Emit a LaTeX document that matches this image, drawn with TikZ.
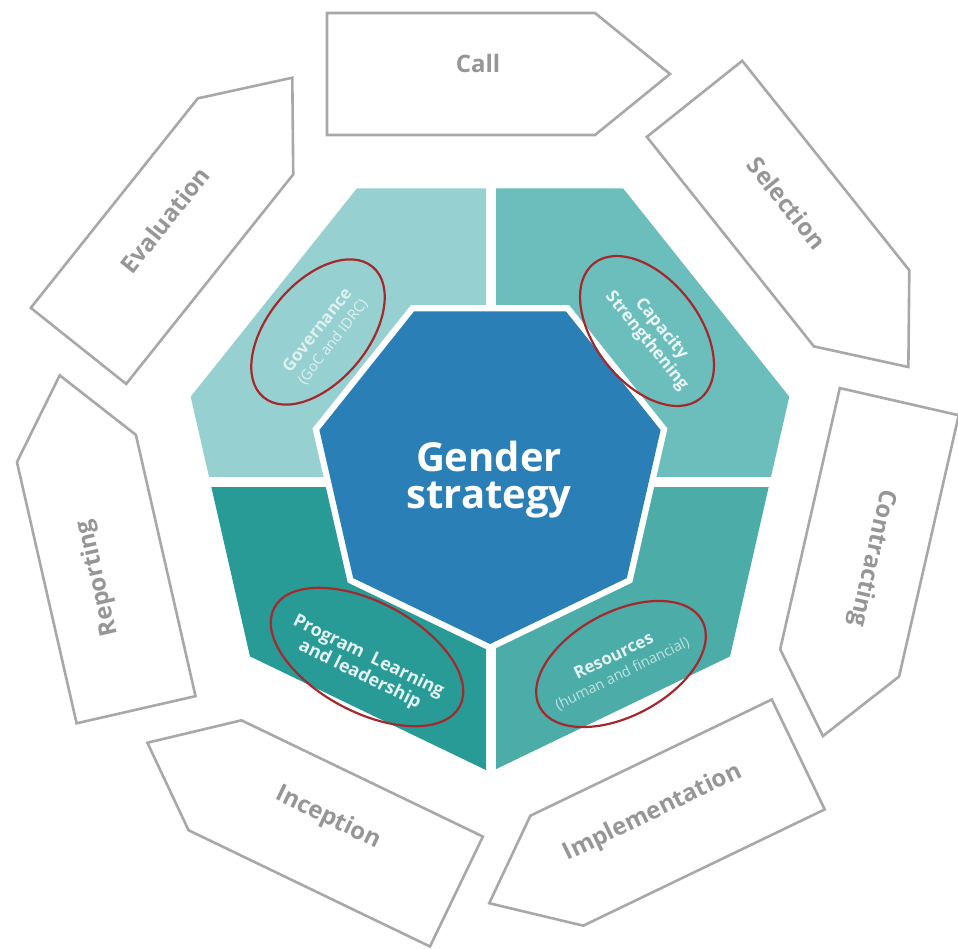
\documentclass[tikz,border=0pt]{standalone}
\usepackage{fontspec}
\setmainfont{Open Sans}
\usetikzlibrary{calc,shapes.geometric}

\definecolor{qtl}{RGB}{150,208,208}
\definecolor{qtr}{RGB}{108,190,188}
\definecolor{qbl}{RGB}{40,155,150}
\definecolor{qbr}{RGB}{75,172,168}
\definecolor{corefill}{RGB}{42,127,183}
\definecolor{ringline}{RGB}{168,168,168}
\definecolor{ringtext}{RGB}{150,150,150}
\definecolor{markline}{RGB}{165,40,45}

\newcommand\sublinefont{\mdseries\fontsize{14.5}{17}\selectfont}

\tikzset{
  hept/.style={insert path={(270:#1) -- (321.43:#1) -- (12.86:#1) -- (64.29:#1)
      -- (115.71:#1) -- (167.14:#1) -- (218.57:#1) -- cycle}},
  stagebox/.style={draw=ringline, line width=2.6pt, fill=white, line join=miter},
  stagelabel/.style={text=ringtext, font=\bfseries\fontsize{24}{26}\selectfont, inner sep=0pt},
  highlight/.style={ellipse, draw=markline, line width=2.2pt, inner sep=0pt},
  pillar/.style={font=\bfseries\fontsize{17}{19}\selectfont, align=center, inner sep=0pt},
}

\begin{document}
\begin{tikzpicture}[x=1pt,y=1pt]
\useasboundingbox (0,0) rectangle (958,-948);
\fill[white] (0,0) rectangle (958,-948);

% ring of process stages, one arrow per side of the heptagon
\foreach \ang/\dx in {0/0, -51.43/0, -102.86/-5, -154.29/0, -205.71/0, -257.14/0, -308.57/0} {
  \begin{scope}[shift={(485+\dx,-468)}, rotate=\ang]
    \draw[stagebox] (-158,455) -- (110,455) -- (185,394) -- (110,333) -- (-158,333) -- cycle;
  \end{scope}
}

\node[stagelabel, rotate=0]       (call)     at (478,-63)  {Call};
\node[stagelabel, rotate=-51.43]  (select)   at (787,-203) {Selection};
\node[stagelabel, rotate=-102.86] (contract) at (872,-558) {Contracting};
\node[stagelabel, rotate=25.71]   (implem)   at (653,-813) {Implementation};
\node[stagelabel, rotate=-25.71]  (incept)   at (328,-818) {Inception};
\node[stagelabel, rotate=102.86]  (report)   at (98,-578)  {Reporting};
\node[stagelabel, rotate=51.43]   (evaluate) at (165,-220) {Evaluation};

% four coloured pillars cut from the outer heptagon
\begin{scope}[shift={(490,-465)}]
  \begin{scope}\clip (-340,340) rectangle (-4,-11); \fill[qtl, hept=307]; \end{scope}
  \begin{scope}\clip (6,340) rectangle (340,-11);   \fill[qtr, hept=307]; \end{scope}
  \begin{scope}\clip (-340,-22) rectangle (-4,-340); \fill[qbl, hept=307]; \end{scope}
  \begin{scope}\clip (6,-22) rectangle (340,-340);  \fill[qbr, hept=307]; \end{scope}
\end{scope}

% central heptagon with white rim
\begin{scope}[shift={(490,-469)}]
  \fill[white, hept=182];
  \fill[corefill, hept=175];
\end{scope}

\node[text=white, font=\bfseries\fontsize{40}{37}\selectfont, align=center, inner sep=0pt]
  (core) at (489,-480) {Gender\\strategy};

% highlighted pillar titles
\node[highlight, minimum width=170pt, minimum height=100pt, rotate=50]  (govring) at (318,-332) {};
\node[highlight, minimum width=172pt, minimum height=104pt, rotate=-52] (capring) at (647,-331) {};
\node[highlight, minimum width=210pt, minimum height=110pt, rotate=-28] (progring) at (367,-657) {};
\node[highlight, minimum width=184pt, minimum height=104pt, rotate=28]  (resring) at (621,-664) {};

\node[pillar, text=white!70!qtl, rotate=52] (govtext) at (325,-336)
  {Governance\\{\sublinefont (GoC and IDRC)}};
\node[pillar, text=white!88!qtr, rotate=-51] (captext) at (654,-335)
  {Capacity\\Strengthening};
\node[pillar, text=white!88!qbl, rotate=-26, font=\bfseries\fontsize{18}{20}\selectfont] (progtext) at (364,-666)
  {Program\ \ Learning\\and leadership};
\node[pillar, text=white!85!qbr, rotate=26] (restext) at (618,-665)
  {Resources\\{\sublinefont\color{white!65!qbr}(human and financial)}};
\end{tikzpicture}
\end{document}
